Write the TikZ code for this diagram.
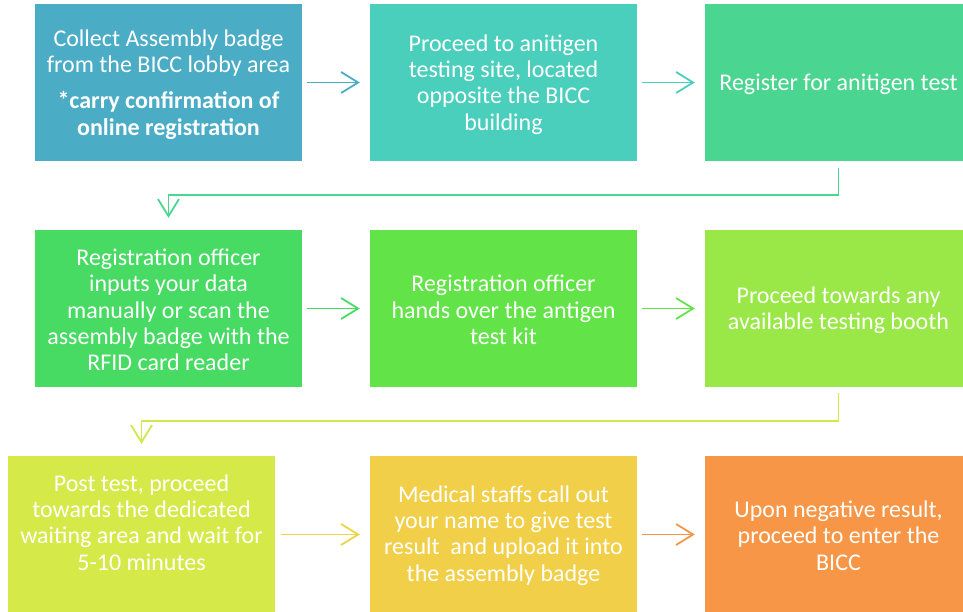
\documentclass[tikz,border=0pt]{standalone}
\usepackage{fontspec}
\setmainfont{Carlito}
\usetikzlibrary{arrows.meta}
\definecolor{c1}{HTML}{4BACC6}
\definecolor{c2}{HTML}{4BCFBD}
\definecolor{c3}{HTML}{4AD690}
\definecolor{c4}{HTML}{47DB64}
\definecolor{c5}{HTML}{62E449}
\definecolor{c6}{HTML}{99E847}
\definecolor{c7}{HTML}{D5EA48}
\definecolor{c8}{HTML}{F2CF48}
\definecolor{c9}{HTML}{F79646}
\begin{document}
\begin{tikzpicture}[x=1pt,y=-1pt,
  box/.style={minimum width=267pt,minimum height=157pt,inner sep=0pt,draw=none},
  txt/.style={text=white,align=center,font=\fontsize{24}{26.3}\selectfont,inner sep=0pt},
  arr/.style={line width=1.8pt,-{Straight Barb[length=17pt,width=21pt,line width=1.8pt]},shorten <=5pt,shorten >=10pt}
]
\useasboundingbox (0,0) rectangle (963,612);
\node[box,fill=c1] (b1) at (168.5,82.5) {};
\node[box,fill=c2] (b2) at (503.5,82.5) {};
\node[box,fill=c3] (b3) at (838.5,82.5) {};
\node[box,fill=c4] (b4) at (168.5,308.5) {};
\node[box,fill=c5] (b5) at (503.5,308.5) {};
\node[box,fill=c6] (b6) at (838.5,308.5) {};
\node[box,fill=c7] (b7) at (141.5,534.5) {};
\node[box,fill=c8] (b8) at (503.5,534.5) {};
\node[box,fill=c9] (b9) at (838.5,534.5) {};

\node[txt] (t1) at (168.5,84.5) {Collect Assembly badge\\from the BICC lobby area\\[10pt]\textbf{*carry confirmation of}\\\textbf{online registration}};
\node[txt] (t2) at (503.5,84.5) {Proceed to anitigen\\testing site, located\\opposite the BICC\\building};
\node[txt] (t3) at (838.5,84.5) {Register for anitigen test};
\node[txt] (t4) at (168.5,310) {Registration officer\\inputs your data\\manually or scan the\\assembly badge with the\\RFID card reader};
\node[txt] (t5) at (503.5,310) {Registration officer\\hands over the antigen\\test kit};
\node[txt] (t6) at (838.5,310) {Proceed towards any\\available testing booth};
\node[txt] (t7) at (141.5,522.5) {Post test, proceed\\towards the dedicated\\waiting area and wait for\\5-10 minutes};
\node[txt] (t8) at (503.5,535.5) {Medical staffs call out\\your name to give test\\result\ \ and upload it into\\the assembly badge};
\node[txt] (t9) at (838.5,535.5) {Upon negative result,\\proceed to enter the\\BICC};

\draw[arr,c1] (b1) -- (b2);
\draw[arr,c2] (b2) -- (b3);
\draw[arr,c4] (b4) -- (b5);
\draw[arr,c5] (b5) -- (b6);
\draw[arr,c8!80!c7,shorten <=6pt] (b7) -- (b8);
\draw[arr,c9] (b8) -- (b9);

\draw[arr,c3,shorten <=0pt,shorten >=0pt] ([yshift=-7pt]b3.south) -- ++(0,27) -| ([yshift=12pt]b4.north);
\draw[arr,c7!85!c6,shorten <=0pt,shorten >=0pt] ([yshift=-6pt]b6.south) -- ++(0,28) -| ([yshift=12pt]b7.north);
\end{tikzpicture}
\end{document}
